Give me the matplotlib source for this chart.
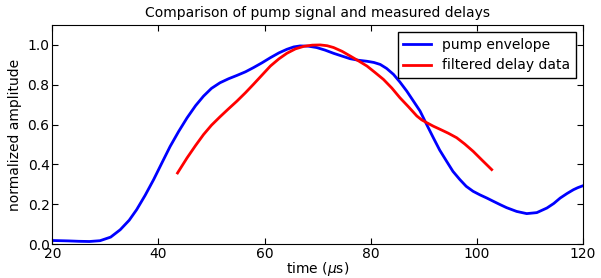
import numpy as np
import matplotlib.pyplot as plt

# pump envelope (time in us, normalized amplitude)
pump_t = [20, 23, 25, 27, 29, 31, 32.8, 34.5, 35.9, 37.5, 39.1, 40.7, 42.2, 43.8, 45.4,
          47.0, 48.5, 50.0, 51.6, 53.2, 54.8, 56.4, 57.9, 59.5, 61.1, 62.7, 64.2, 65.5,
          66.7, 68.2, 69.8, 71.4, 73.0, 74.6, 76.1, 77.7, 79.3, 80.6, 81.8, 83.0, 84.3,
          85.5, 86.8, 88.0, 89.3, 90.5, 91.8, 93.0, 94.3, 95.5, 96.8, 98.0, 99.3, 100.6,
          101.9, 103.1, 104.4, 105.6, 107.5, 109.4, 111.3, 113.2, 114.5, 115.7, 117.0,
          118.2, 119.0, 120]
pump_a = [0.018, 0.016, 0.014, 0.013, 0.017, 0.035, 0.072, 0.12, 0.173, 0.245, 0.324,
          0.41, 0.49, 0.565, 0.634, 0.695, 0.743, 0.782, 0.81, 0.83, 0.847, 0.865, 0.886,
          0.91, 0.936, 0.96, 0.978, 0.99, 0.995, 0.994, 0.987, 0.974, 0.958, 0.944, 0.931,
          0.923, 0.918, 0.912, 0.902, 0.882, 0.852, 0.814, 0.768, 0.72, 0.668, 0.603,
          0.534, 0.472, 0.416, 0.365, 0.324, 0.29, 0.265, 0.247, 0.231, 0.215, 0.198,
          0.183, 0.164, 0.153, 0.158, 0.181, 0.204, 0.231, 0.254, 0.273, 0.283, 0.293]

# filtered delay data
delay_t = [43.6, 45.4, 47.0, 48.5, 50.0, 51.6, 53.2, 54.8, 56.4, 57.9, 59.5, 61.1, 62.7,
           64.2, 65.8, 67.4, 69.0, 70.5, 71.8, 73.0, 74.6, 76.1, 77.7, 79.3, 80.8, 82.4,
           84.0, 85.5, 87.1, 88.7, 89.6, 90.6, 91.8, 93.1, 94.6, 96.2, 97.7, 99.3, 101.0,
           102.8]
delay_a = [0.357, 0.433, 0.495, 0.55, 0.597, 0.639, 0.679, 0.718, 0.76, 0.802, 0.848,
           0.894, 0.93, 0.958, 0.98, 0.993, 0.999, 1.0, 0.996, 0.987, 0.968, 0.945, 0.92,
           0.894, 0.862, 0.827, 0.783, 0.735, 0.69, 0.643, 0.624, 0.609, 0.592, 0.576,
           0.557, 0.534, 0.503, 0.466, 0.421, 0.374]

plt.rcParams['xtick.direction'] = 'in'
plt.rcParams['ytick.direction'] = 'in'
plt.rcParams['xtick.top'] = True
plt.rcParams['ytick.right'] = True
plt.rcParams['font.size'] = 10

fig, ax = plt.subplots(figsize=(6.01, 2.78), dpi=100)
fig.subplots_adjust(left=0.087, right=0.97, top=0.91, bottom=0.122)

ax.plot(pump_t, pump_a, c='b', lw=2, label='pump envelope')
ax.plot(delay_t, delay_a, c='r', lw=2, label='filtered delay data')
ax.set_xlim(20, 120)
ax.set_ylim(0, 1.1)
ax.set_xticks([20, 40, 60, 80, 100, 120])
ax.set_yticks([0.0, 0.2, 0.4, 0.6, 0.8, 1.0])
ax.tick_params(length=4, pad=2)
ax.set_xlabel(r'time ($\mu$s)', fontsize=10, labelpad=-0.5)
ax.set_ylabel('normalized amplitude', fontsize=10, labelpad=4)
ax.set_title('Comparison of pump signal and measured delays', fontsize=10)
leg = ax.legend(loc='upper right', fancybox=False, edgecolor='k', framealpha=1,
                borderaxespad=0.5)
leg.get_frame().set_linewidth(1)

fig.savefig('out.png')
